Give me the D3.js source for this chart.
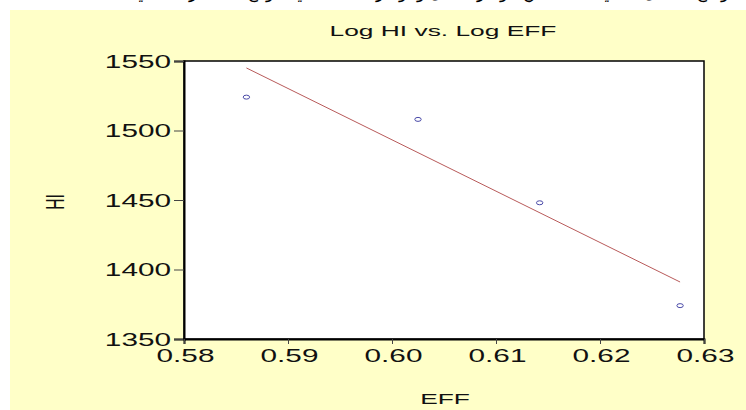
<!DOCTYPE html>
<html>
<head>
<meta charset="utf-8">
<script src="https://cdn.jsdelivr.net/npm/d3@7"></script>
<style>
  body { margin: 0; background: #fff; }
  text { font-family: "Liberation Sans", Arial, sans-serif; }
</style>
</head>
<body>
<div id="visualization"></div>
<script>
// Data
const effValues = [0.586, 0.6025, 0.6142, 0.6277];
const hiValues = [1524, 1508, 1448, 1374];
const fitEff = [0.586, 0.6277];
const fitHi = [1545, 1391];
const xTicks = [0.58, 0.59, 0.60, 0.61, 0.62, 0.63];
const yTicks = [1350, 1400, 1450, 1500, 1550];

const W = 746, H = 410;
const sx = 1.7; // the original picture is stretched sideways

const svg = d3.select("#visualization")
    .append("svg")
    .attr("width", W)
    .attr("height", H);

// cut-off text line at the very top of the page
svg.append("text")
    .attr("x", 735)
    .attr("y", -2)
    .attr("text-anchor", "end")
    .attr("font-family", "DejaVu Sans, sans-serif")
    .attr("font-size", 17)
    .attr("fill", "#000")
    .text("يوضح الشكل التالي العلاقة بين مؤشر الدخل ومؤشر الكفاءة في نموذج الانحدار الخطي");

// yellow panel
svg.append("rect")
    .attr("x", 10).attr("y", 10)
    .attr("width", W - 10).attr("height", H - 10)
    .attr("fill", "#ffffc8");

const plotL = 184, plotR = 704, plotT = 61, plotB = 339;

const x = d3.scaleLinear().domain([0.58, 0.63]).range([plotL, plotR]);
const y = d3.scaleLinear().domain([1350, 1550]).range([plotB, plotT]);

svg.append("rect")
    .attr("x", plotL).attr("y", plotT)
    .attr("width", plotR - plotL).attr("height", plotB - plotT)
    .attr("fill", "#fff")
    .attr("stroke", "#000")
    .attr("stroke-width", 1.5);

// left axis
const yAxis = svg.append("g")
    .attr("transform", `translate(${plotL},0)`)
    .call(d3.axisLeft(y).tickValues(yTicks).tickSize(10).tickPadding(0).tickFormat(d3.format("d")));
yAxis.select(".domain").attr("stroke", "#000").attr("stroke-width", 2);
yAxis.selectAll(".tick line").attr("stroke", "#444");
yAxis.selectAll(".tick text")
    .attr("x", null).attr("dy", null)
    .attr("font-size", 17.5)
    .attr("fill", "#111")
    .attr("text-anchor", "end")
    .attr("transform", `translate(-13,6) scale(${sx},1)`);

// bottom axis
const xAxis = svg.append("g")
    .attr("transform", `translate(0,${plotB})`)
    .call(d3.axisBottom(x).tickValues(xTicks).tickSize(5).tickPadding(0).tickFormat(d3.format(".2f")));
xAxis.select(".domain").attr("stroke", "#000").attr("stroke-width", 2);
xAxis.selectAll(".tick line").attr("stroke", "#444");
xAxis.selectAll(".tick text")
    .attr("y", null).attr("dy", null)
    .attr("font-size", 17.5)
    .attr("fill", "#111")
    .attr("text-anchor", "middle")
    .attr("transform", `translate(1,23) scale(${sx},1)`);

// fitted line
svg.append("line")
    .attr("x1", x(fitEff[0])).attr("y1", y(fitHi[0]))
    .attr("x2", x(fitEff[1])).attr("y2", y(fitHi[1]))
    .attr("stroke", "#b85a5a")
    .attr("stroke-width", 1);

// points
svg.selectAll(".pt")
    .data(effValues.map((e, i) => ({ e: e, h: hiValues[i] })))
    .enter()
    .append("ellipse")
    .attr("class", "pt")
    .attr("cx", d => x(d.e))
    .attr("cy", d => y(d.h))
    .attr("rx", 3.2)
    .attr("ry", 2)
    .attr("fill", "none")
    .attr("stroke", "#4a4aa8")
    .attr("stroke-width", 1);

// title and axis labels
svg.append("text")
    .attr("transform", `translate(443,36) scale(${sx},1)`)
    .attr("text-anchor", "middle")
    .attr("font-size", 15.5)
    .attr("fill", "#111")
    .text("Log HI vs. Log EFF");

svg.append("text")
    .attr("transform", `translate(445,404) scale(${sx},1)`)
    .attr("text-anchor", "middle")
    .attr("font-size", 15.5)
    .attr("fill", "#111")
    .text("EFF");

svg.append("text")
    .attr("transform", `translate(64,202) scale(${sx},1) rotate(-90)`)
    .attr("text-anchor", "middle")
    .attr("font-size", 15.5)
    .attr("fill", "#111")
    .text("HI");
</script>
</body>
</html>
